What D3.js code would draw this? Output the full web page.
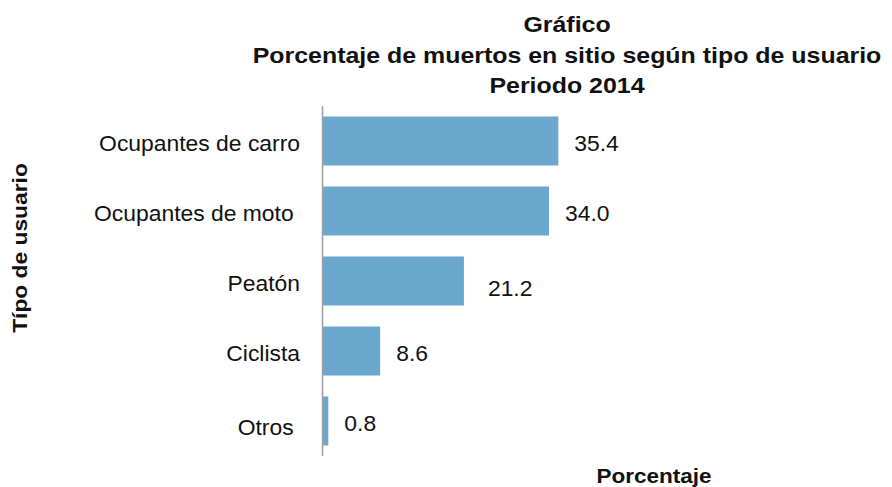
<!DOCTYPE html>
<html>
<head>
<meta charset="utf-8">
<script src="https://cdn.jsdelivr.net/npm/d3@7"></script>
<style>
  html, body { margin: 0; padding: 0; background: #fff; }
  svg { display: block; font-family: "Liberation Sans", Arial, sans-serif; }
  text { white-space: pre; }
</style>
</head>
<body>
<svg id="chart" width="892" height="487"></svg>
<script>
// Data
const categories = ["Ocupantes de carro", "Ocupantes de moto ", "Peatón", "Ciclista", "Otros "];
const values = [35.4, 34.0, 21.2, 8.6, 0.8];
const titleLines = ["Gráfico", "Porcentaje de muertos en sitio según tipo de usuario", "Periodo 2014"];
const xTitle = "Porcentaje";
const yTitle = "Típo de usuario";

const svg = d3.select("#chart");
const barColor = "#6ba6cc";

// Scales
const x = d3.scaleLinear().domain([0, 40]).range([323, 588.9]);
const y = d3.scaleBand().domain(categories).range([106, 456]).paddingInner(0.3).paddingOuter(0.15);

// Small manual label nudges (dx, dy) where labels sit off their default spot
const valueNudge = { "Peatón": [8, 5] };
const catNudge = { "Otros ": [0, 4] };

// Text helper: horizontally widened glyphs
function label(g, str, px, py, opts) {
  return g.append("text")
    .attr("transform", `translate(${px},${py})` + (opts.rotate ? ` rotate(${opts.rotate})` : "") + ` scale(${opts.sx || 1},1)`)
    .attr("text-anchor", opts.anchor || "start")
    .attr("font-size", opts.size)
    .attr("font-weight", opts.bold ? "bold" : "normal")
    .attr("fill", "#111")
    .text(str);
}

// Title
titleLines.forEach((s, i) => {
  label(svg, s, 567, [32, 62.5, 93][i], { anchor: "middle", size: 21.5, bold: true, sx: 1.16 });
});

// Bars
svg.append("g").selectAll("rect")
  .data(categories)
  .join("rect")
  .attr("x", x(0))
  .attr("y", d => y(d))
  .attr("width", (d, i) => x(values[i]) - x(0))
  .attr("height", y.bandwidth())
  .attr("fill", barColor);

// Vertical axis line
const axis = svg.append("g").attr("transform", `translate(${x(0) - 0.5},0)`)
  .call(d3.axisLeft(y).tickSize(0).tickFormat(""));
axis.select(".domain").attr("d", `M0,${y.range()[0]}V${y.range()[1]}`)
  .attr("stroke", "#a0a0a0").attr("stroke-width", 1.5);

// Category labels
const catG = svg.append("g");
categories.forEach((c) => {
  const [dx, dy] = catNudge[c] || [0, 0];
  label(catG, c, 300 + dx, y(c) + y.bandwidth() / 2 + 10 + dy, { anchor: "end", size: 22, sx: 1.04 });
});

// Value labels
const valG = svg.append("g");
categories.forEach((c, i) => {
  const [dx, dy] = valueNudge[c] || [0, 0];
  label(valG, values[i].toFixed(1), x(values[i]) + 16 + dx, y(c) + y.bandwidth() / 2 + 9.5 + dy, { size: 22, sx: 1.04 });
});

// Axis titles
label(svg, xTitle, 654, 482.5, { anchor: "middle", size: 20.5, bold: true, sx: 1.1 });
label(svg, yTitle, 27, 248, { anchor: "middle", size: 20, bold: true, sx: 1.14, rotate: -90 });
</script>
</body>
</html>
